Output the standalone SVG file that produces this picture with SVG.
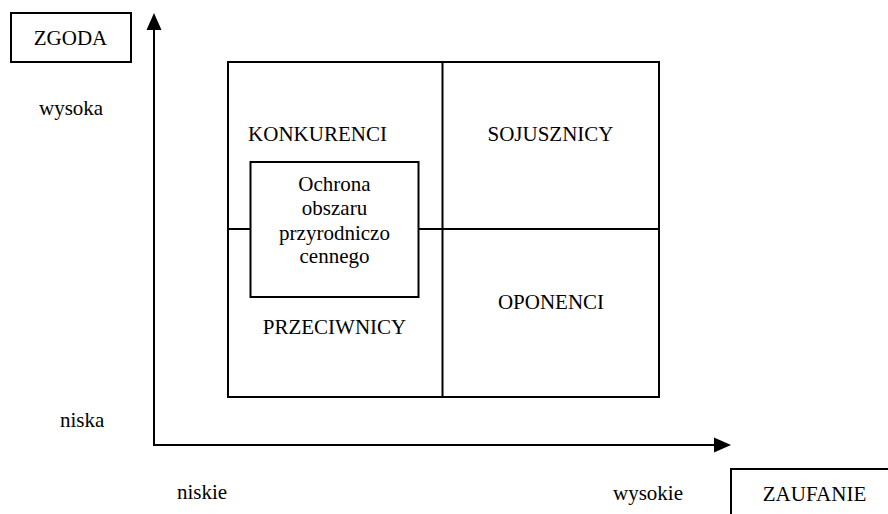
<svg xmlns="http://www.w3.org/2000/svg" width="888" height="514" viewBox="0 0 888 514">
<style>
.box{fill:#fff;stroke:#000;stroke-width:2}
.ln{stroke:#000;stroke-width:2;fill:none}
.t{font-family:"Liberation Serif","Times New Roman",serif;font-size:21px;fill:#000}
.m{text-anchor:middle}
.ah{fill:#000}
</style>
<rect width="888" height="514" fill="#fff"/>
<g id="connectors">
<line class="ln" x1="154" y1="446" x2="154" y2="27"/>
<polygon class="ah" points="154,13 146.5,30 161.5,30"/>
<line class="ln" x1="153" y1="445" x2="717" y2="445"/>
<polygon class="ah" points="731,445 714,437.5 714,452.5"/>
</g>
<g id="grid">
<rect class="box" x="228" y="62" width="431" height="335"/>
<line class="ln" x1="442.5" y1="62" x2="442.5" y2="397"/>
<line class="ln" x1="228" y1="229" x2="659" y2="229"/>
</g>
<g id="zgoda">
<rect class="box" x="11" y="13" width="120" height="49"/>
<text class="t m" x="70.5" y="45">ZGODA</text>
</g>
<g id="zaufanie">
<rect class="box" x="731" y="469" width="170" height="60"/>
<text class="t m" x="814.5" y="501">ZAUFANIE</text>
</g>
<g id="konkurenci"><text class="t m" x="317.5" y="141">KONKURENCI</text></g>
<g id="sojusznicy"><text class="t m" x="550.5" y="141">SOJUSZNICY</text></g>
<g id="oponenci"><text class="t m" x="551" y="309">OPONENCI</text></g>
<g id="przeciwnicy"><text class="t m" x="334.5" y="334">PRZECIWNICY</text></g>
<g id="ochrona">
<rect class="box" x="250.5" y="162" width="168" height="135"/>
<text class="t m" x="334.5" y="191">Ochrona</text>
<text class="t m" x="334.5" y="215">obszaru</text>
<text class="t m" x="334.5" y="240">przyrodniczo</text>
<text class="t m" x="334.5" y="263">cennego</text>
</g>
<g id="labels">
<text class="t" x="39" y="115">wysoka</text>
<text class="t" x="60" y="427">niska</text>
<text class="t" x="177" y="499">niskie</text>
<text class="t" x="613" y="500">wysokie</text>
</g>
</svg>
